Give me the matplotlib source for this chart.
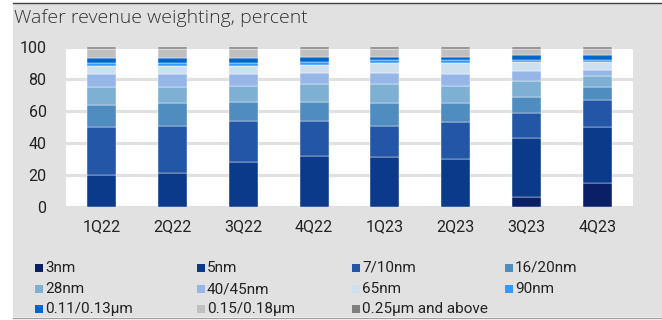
import numpy as np
import matplotlib
matplotlib.use('Agg')
from matplotlib import pyplot as plt
from matplotlib.patches import Rectangle

# Dati (percentuali del fatturato wafer)
quarters = ['1Q22', '2Q22', '3Q22', '4Q22', '1Q23', '2Q23', '3Q23', '4Q23']
nodes = ['3nm', '5nm', '7/10nm', '16/20nm', '28nm', '40/45nm', '65nm', '90nm',
         '0.11/0.13\u00b5m', '0.15/0.18\u00b5m', '0.25\u00b5m and above']
n3 = [0, 0, 0, 0, 0, 0, 6, 15]
n5 = [20, 21, 28, 32, 31, 30, 37, 35]
n7 = [30, 30, 26, 22, 20, 23, 16, 17]
n16 = [14, 14, 12, 12, 14, 12, 10, 8]
n28 = [11, 10, 10, 11, 12, 11, 10, 7]
n40 = [8, 8, 7, 7, 7, 7, 6, 4]
n65 = [5, 5, 5, 5, 6, 7, 6, 5]
n90 = [2, 2, 2, 2, 2, 2, 1, 1]
n011 = [3, 3, 3, 3, 2, 2, 3, 3]
n015 = [6, 6, 6, 5, 5, 5, 4, 4]
n025 = [1, 1, 1, 1, 1, 1, 1, 1]
series = [n3, n5, n7, n16, n28, n40, n65, n90, n011, n015, n025]
colors = ['#0a1f66', '#0b3a8a', '#2356a6', '#4f8cc0', '#7eb0d4', '#96b6e8',
          '#cce0ef', '#3399ff', '#0066cc', '#c0c0c0', '#7f7f7f']

W, H = 662, 320
bg = '#e1e1e1'
cond = ['Roboto', 'DejaVu Sans']

fig = plt.figure(figsize=(W / 100, H / 100), dpi=100)
fig.patch.set_facecolor('white')
# Riquadro grigio di sfondo
fig.patches.append(Rectangle((13 / W, 1 - 317 / H), 1, 313 / H, transform=fig.transFigure,
                             facecolor=bg, edgecolor='none', zorder=-5))
fig.lines.append(plt.Line2D([13 / W, 1], [1 - 3 / H, 1 - 3 / H], transform=fig.transFigure,
                            color='#404040', linewidth=1.0, zorder=-4))
fig.lines.append(plt.Line2D([13 / W, 1], [1 - 318 / H, 1 - 318 / H], transform=fig.transFigure,
                            color='#a0a0a0', linewidth=1.0, zorder=-4))

ax = fig.add_axes([66 / W, 1 - 207 / H, (633 - 66) / W, (207 - 47.3) / H])
ax.set_facecolor('white')
ax.set_zorder(1)

x = np.arange(len(quarters))
bottom = np.zeros(len(quarters))
for vals, col, lab in zip(series, colors, nodes):
    v = np.array(vals, dtype=float)
    ax.bar(x, v, 0.41, bottom=bottom, color=col, edgecolor='white', linewidth=0.3,
           label=lab, zorder=3)
    bottom += v

ax.set_xlim(-0.5, 7.5)
ax.set_ylim(0, 100)
ax.set_yticks([0, 20, 40, 60, 80, 100])
ax.set_xticks(x)
ax.set_xticklabels(quarters)
ax.yaxis.grid(True, color=bg, linewidth=2.3, zorder=0)
ax.set_axisbelow(True)
for s in ax.spines.values():
    s.set_visible(False)
ax.tick_params(axis='both', length=0, labelsize=11.5, labelcolor='#222222')
ax.tick_params(axis='y', pad=14)
ax.tick_params(axis='x', pad=9)
for t in ax.get_xticklabels() + ax.get_yticklabels():
    t.set_family(cond)
    t.set_fontstretch('condensed')

fig.text(14 / W, 1 - 18 / H, 'Wafer revenue weighting, percent', fontsize=14,
         family=['Open Sans', 'DejaVu Sans'], fontweight='light', color='#333333',
         va='center', ha='left')

# Legenda disegnata a mano, riga per riga
col_x = [35, 197, 352, 505]
row_y = [272, 293, 313]
for i, (lab, col) in enumerate(zip(nodes, colors)):
    r, c = divmod(i, 4)
    px, py = col_x[c], row_y[r]
    fig.patches.append(Rectangle((px / W, 1 - py / H), 8 / W, 8 / H,
                                 transform=fig.transFigure, facecolor=col,
                                 edgecolor='none'))
    fig.text((px + 10) / W, 1 - py / H, lab, fontsize=11, family=cond,
             fontstretch='condensed', color='#222222', va='baseline', ha='left')

fig.savefig('out.png', dpi=100, facecolor=fig.get_facecolor())
